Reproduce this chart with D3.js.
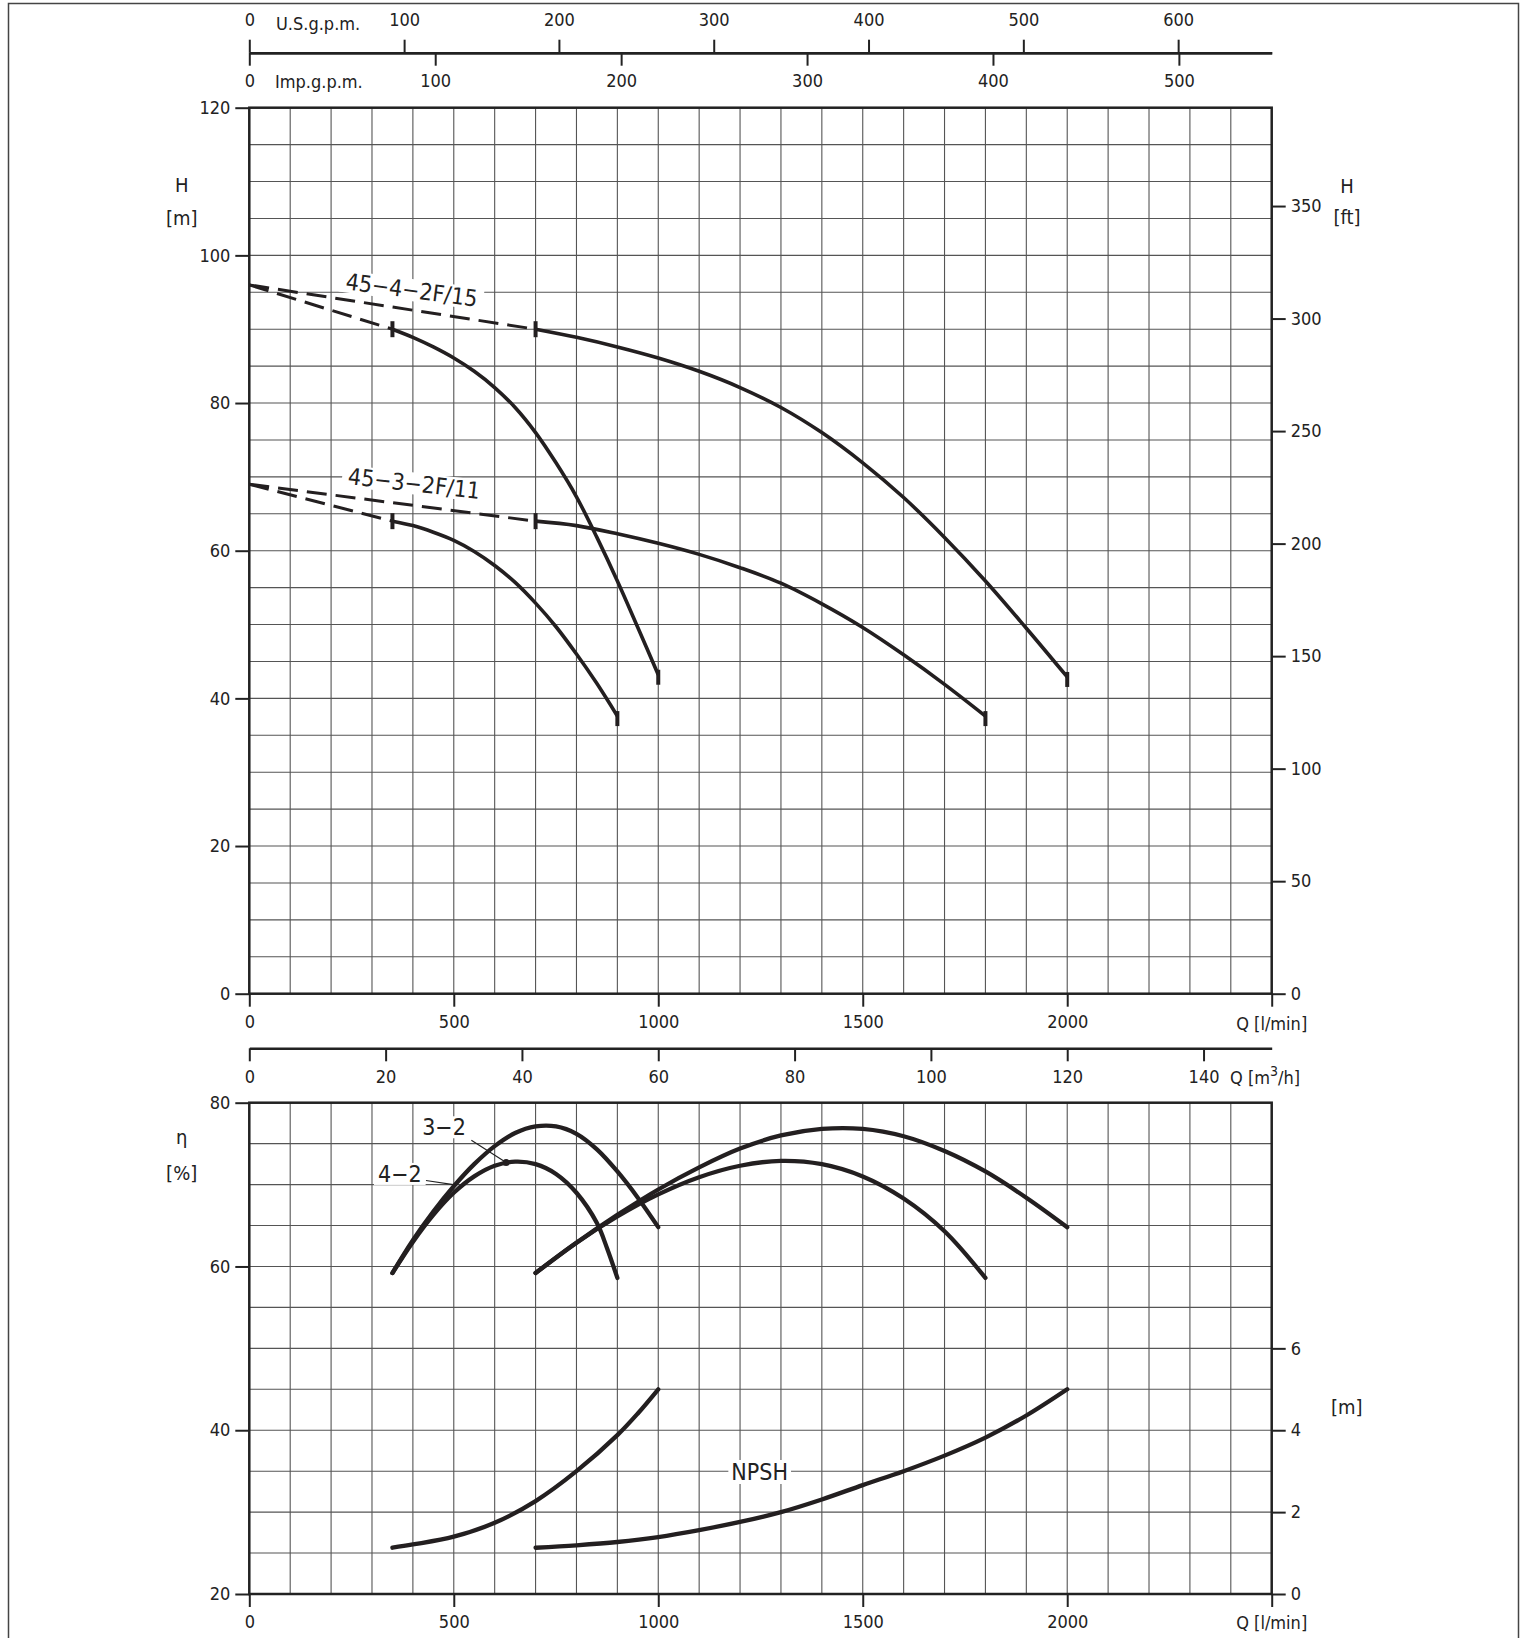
<!DOCTYPE html>
<html><head><meta charset="utf-8">
<script src="https://cdn.jsdelivr.net/npm/d3@7"></script>
<style>
body{margin:0;background:#fff}
svg text{font-family:"DejaVu Sans Condensed","DejaVu Sans",sans-serif;font-stretch:condensed;fill:#222}
</style>
</head><body>
<svg id="c" width="1523" height="1638"></svg>
<script>
// ---------- tick labels ----------
const headTicksM   = [0,20,40,60,80,100,120];
const headTicksFt  = [0,50,100,150,200,250,300,350];
const flowTicksLmin = [0,500,1000,1500,2000,2500];
const flowTicksM3h = [0,20,40,60,80,100,120,140];
const usgpmTicks   = [0,100,200,300,400,500,600];
const impgpmTicks  = [0,100,200,300,400,500];
const etaTicks     = [20,40,60,80];
const npshTicks    = [0,2,4,6];

// ---------- head curves (Q l/min, H m) ----------
const q4Dash  = [0,350];           const h4Dash  = [96,90];
const q4      = [350,400,450,500,550,600,650,700,750,800,850,900,950,1000];
const h4      = [90,88.9,87.6,86.1,84.3,82.1,79.4,76.0,71.9,67.3,61.8,55.9,49.6,43.2];
const q4LDash = [0,700];           const h4LDash = [96,90];
const q4L     = [700,800,900,1000,1100,1200,1300,1400,1500,1600,1700,1800,1900,2000];
const h4L     = [90,88.9,87.6,86.1,84.3,82.1,79.4,76.0,71.9,67.2,61.8,55.9,49.5,42.9];
const q3Dash  = [0,350];           const h3Dash  = [69,64];
const q3      = [350,400,450,500,550,600,650,700,750,800,850,900];
const h3      = [64,63.4,62.5,61.4,59.9,58.0,55.7,52.9,49.7,46.0,42.0,37.6];
const q3LDash = [0,700];           const h3LDash = [69,64];
const q3L     = [700,800,900,1000,1100,1200,1300,1400,1500,1600,1700,1800];
const h3L     = [64,63.4,62.3,61.0,59.5,57.7,55.6,52.8,49.6,45.9,41.9,37.6];

// ---------- efficiency curves (Q l/min, eta %) ----------
const qEffA = [350,400,450,500,550,600,650,700,750,800,850,900,950,1000];
const eEffA = [59.2,63.2,66.7,69.8,72.5,74.7,76.3,77.1,77.1,76.2,74.3,71.6,68.4,64.8];
const qEffB = [350,400,450,500,550,600,650,700,750,800,850,875,900];
const eEffB = [59.2,63.0,66.3,69.0,71.0,72.3,72.8,72.5,71.3,69.0,65.3,62.2,58.6];
const qEffC = [700,800,900,1000,1100,1200,1300,1400,1500,1600,1700,1800,1900,2000];
const eEffC = [59.2,62.9,66.3,69.4,72.1,74.4,76.0,76.8,76.8,75.9,74.1,71.6,68.4,64.8];
const qEffD = [700,800,900,1000,1100,1200,1300,1400,1500,1600,1700,1800];
const eEffD = [59.2,62.9,66.1,68.8,70.9,72.3,72.9,72.5,71.0,68.3,64.3,58.6];

// ---------- NPSH curves (Q l/min, NPSH m) ----------
const qNp1 = [350,400,500,600,700,800,900,950,1000];
const nNp1 = [1.13,1.21,1.40,1.74,2.27,3.0,3.88,4.41,5.0];
const qNp2 = [700,800,900,1000,1100,1200,1300,1400,1500,1600,1700,1800,1900,2000];
const nNp2 = [1.13,1.19,1.27,1.39,1.56,1.76,2.0,2.31,2.66,3.0,3.38,3.82,4.36,5.0];

// ---------- annotations (data units) ----------
const curveLabels = ["45−4−2F/15","45−3−2F/11"];
const curveLabelQ = [397,403];
const curveLabelH = [95.3,69.1];
const curveLabelRot = [7.5,6.5];
const effLabels = ["3−2","4−2"];
const effLabelQ = [476,368];
const effLabelE = [77.0,71.3];
const effPtrFromQ = [543,432]; const effPtrFromE = [75.4,70.5];
const effPtrToQ = [628,499];   const effPtrToE = [72.7,70.0];

// ---------- layout ----------
const L = 249.3, R = 1271.7;
const T0 = 107.7, T1 = 993.7, B0 = 1102.7, B1 = 1594;
const svg = d3.select("#c");
const zip = (a,b) => a.map((v,i)=>[v,b[i]]);

const x   = d3.scaleLinear().domain([0,2500]).range([L,R]);
const yH  = d3.scaleLinear().domain([0,120]).range([T1,T0]);
const yFt = d3.scaleLinear().domain([0,120*3.28084]).range([T1,T0]);
const yE  = d3.scaleLinear().domain([20,80]).range([B1,B0]);
const yN  = d3.scaleLinear().domain([0,6]).range([B1,yE(50)]);
const xUS = d3.scaleLinear().domain([0,2500/3.78541]).range([L,R]);
const xImp= d3.scaleLinear().domain([0,2500/4.54609]).range([L,R]);
const xM3 = d3.scaleLinear().domain([0,150]).range([L,R]);

// outer frame
svg.append("rect").attr("x",8.5).attr("y",3.5).attr("width",1510).attr("height",1700)
  .attr("fill","none").attr("stroke","#444").attr("stroke-width",1.5);

// grids
function grid(y, yTicks, y0, y1){
  const g = svg.append("g").attr("stroke","#555").attr("stroke-width",1.1);
  g.selectAll("line.v").data(x.ticks(25)).join("line").attr("class","v")
    .attr("x1",d=>x(d)).attr("x2",d=>x(d)).attr("y1",y0).attr("y2",y1);
  g.selectAll("line.h").data(yTicks).join("line").attr("class","h")
    .attr("x1",L).attr("x2",R).attr("y1",d=>y(d)).attr("y2",d=>y(d));
}
grid(yH, yH.ticks(24), T0, T1);
grid(yE, yE.ticks(12), B0, B1);

function styleAxis(g, fs){
  g.attr("font-family",null).attr("font-size",null);
  g.selectAll("line").attr("stroke","#222").attr("stroke-width",2);
  g.selectAll("path.domain").attr("stroke","#222").attr("stroke-width",2.5);
  g.selectAll("text").attr("font-size",fs).attr("fill","#222");
}
const fs = 18;
const fmt = d3.format("d");
let a;
// top chart
a = svg.append("g").attr("transform",`translate(${L},0)`)
  .call(d3.axisLeft(yH).tickValues(headTicksM).tickSize(14).tickPadding(5).tickSizeOuter(0));
a.select(".domain").remove(); styleAxis(a,fs);
a = svg.append("g").attr("transform",`translate(${R},0)`)
  .call(d3.axisRight(yFt).tickValues(headTicksFt).tickSize(14).tickPadding(5).tickSizeOuter(0));
a.select(".domain").remove(); styleAxis(a,fs);
a = svg.append("g").attr("transform",`translate(0,${T1})`)
  .call(d3.axisBottom(x).tickValues(flowTicksLmin).tickSize(13).tickPadding(8.7)
    .tickFormat(d=>d===2500?"":fmt(d)).tickSizeOuter(0));
a.select(".domain").remove(); styleAxis(a,fs);
svg.append("rect").attr("x",L).attr("y",T0).attr("width",R-L).attr("height",T1-T0)
  .attr("fill","none").attr("stroke","#222").attr("stroke-width",2.5);
// gpm axes
a = svg.append("g").attr("transform","translate(0,52.7)")
  .call(d3.axisTop(xUS).tickValues(usgpmTicks).tickSize(13).tickPadding(10.5).tickSizeOuter(0));
styleAxis(a,fs); a.selectAll("text").attr("dy","0.72em").attr("y",-40);
a = svg.append("g").attr("transform","translate(0,52.7)")
  .call(d3.axisBottom(xImp).tickValues(impgpmTicks).tickSize(13).tickPadding(8.8).tickSizeOuter(0));
styleAxis(a,fs);
// m3/h axis
a = svg.append("g").attr("transform","translate(0,1048.3)")
  .call(d3.axisBottom(xM3).tickValues(flowTicksM3h).tickSize(13).tickPadding(9).tickSizeOuter(0));
styleAxis(a,fs);

// bottom chart axes
a = svg.append("g").attr("transform",`translate(${L},0)`)
  .call(d3.axisLeft(yE).tickValues(etaTicks).tickSize(14).tickPadding(5).tickSizeOuter(0));
a.select(".domain").remove(); styleAxis(a,fs);
a = svg.append("g").attr("transform",`translate(${R},0)`)
  .call(d3.axisRight(yN).tickValues(npshTicks).tickFormat(fmt).tickSize(14).tickPadding(5).tickSizeOuter(0));
a.select(".domain").remove(); styleAxis(a,fs);
a = svg.append("g").attr("transform",`translate(0,${B1})`)
  .call(d3.axisBottom(x).tickValues(flowTicksLmin).tickSize(13).tickPadding(8.7)
    .tickFormat(d=>d===2500?"":fmt(d)).tickSizeOuter(0));
a.select(".domain").remove(); styleAxis(a,fs);
svg.append("rect").attr("x",L).attr("y",B0).attr("width",R-L).attr("height",B1-B0)
  .attr("fill","none").attr("stroke","#222").attr("stroke-width",2.5);

// unit labels
function txt(parent, s, px, py, size, anchor){
  return parent.append("text").attr("x",px).attr("y",py).attr("font-size",size)
    .attr("text-anchor",anchor||"middle").attr("dominant-baseline","central").text(s);
}
txt(svg,"U.S.g.p.m.",276,23,fs,"start");
txt(svg,"Imp.g.p.m.",275,81,fs,"start");
txt(svg,"H",181.7,185,20); txt(svg,"[m]",181.7,218,20);
txt(svg,"H",1347,186,20);  txt(svg,"[ft]",1347,217,20);
txt(svg,"Q [l/min]",1271.7,1023,fs);
const m3 = txt(svg,"Q [m",1230,1077,fs,"start");
m3.append("tspan").attr("font-size",14).attr("dy",-6).text("3");
m3.append("tspan").attr("dy",6).text("/h]");
txt(svg,"η",181.7,1137,20); txt(svg,"[%]",181.7,1173,20);
txt(svg,"[m]",1346.7,1406.7,20);
txt(svg,"Q [l/min]",1271.7,1622,fs);

// boxed label helper: white box behind text in its own group
function boxed(s, px, py, rot, size, padX, padY){
  const g = svg.append("g").attr("transform",`translate(${px},${py}) rotate(${rot})`);
  const box = g.append("rect").attr("fill","#fff");
  const t = txt(g, s, 0, 0, size);
  const bb = t.node().getBBox();
  box.attr("x",bb.x-padX).attr("y",bb.y+padY).attr("width",bb.width+2*padX).attr("height",bb.height-2*padY);
  return g;
}

const lineH = d3.line().x(d=>x(d[0])).y(d=>yH(d[1])).curve(d3.curveCatmullRom.alpha(0.5));
const lineE = d3.line().x(d=>x(d[0])).y(d=>yE(d[1])).curve(d3.curveCatmullRom.alpha(0.5));
const lineN = d3.line().x(d=>x(d[0])).y(d=>yN(d[1])).curve(d3.curveCatmullRom.alpha(0.5));
const ink = "#231f20";

curveLabels.forEach((s,i)=> boxed(s, x(curveLabelQ[i]), yH(curveLabelH[i]), curveLabelRot[i], 23, 6, 2));

[[q4Dash,h4Dash],[q4LDash,h4LDash],[q3Dash,h3Dash],[q3LDash,h3LDash]].forEach(([q,h])=>{
  svg.append("path").attr("d",lineH(zip(q,h))).attr("fill","none").attr("stroke",ink)
    .attr("stroke-width",3).attr("stroke-dasharray","20,9");
});
[[q4,h4],[q4L,h4L],[q3,h3],[q3L,h3L]].forEach(([q,h])=>{
  svg.append("path").attr("d",lineH(zip(q,h))).attr("fill","none").attr("stroke",ink)
    .attr("stroke-width",3.6).attr("stroke-linejoin","round");
  const s = [q[0],h[0]], e = [q[q.length-1],h[h.length-1]];
  svg.append("line").attr("x1",x(s[0])).attr("x2",x(s[0])).attr("y1",yH(s[1])-8).attr("y2",yH(s[1])+8)
    .attr("stroke",ink).attr("stroke-width",4);
  svg.append("line").attr("x1",x(e[0])).attr("x2",x(e[0])).attr("y1",yH(e[1])-5).attr("y2",yH(e[1])+10)
    .attr("stroke",ink).attr("stroke-width",4);
});

// efficiency labels + pointers
effLabels.forEach((s,i)=>{
  boxed(s, x(effLabelQ[i]), yE(effLabelE[i]), 0, 23, 4, 2);
  svg.append("line").attr("x1",x(effPtrFromQ[i])).attr("y1",yE(effPtrFromE[i]))
    .attr("x2",x(effPtrToQ[i])).attr("y2",yE(effPtrToE[i])).attr("stroke","#222").attr("stroke-width",1.2);
});
svg.append("circle").attr("cx",x(effPtrToQ[0])).attr("cy",yE(effPtrToE[0])).attr("r",3.5).attr("fill",ink);

[[qEffA,eEffA],[qEffB,eEffB],[qEffC,eEffC],[qEffD,eEffD]].forEach(([q,e])=>{
  svg.append("path").attr("d",lineE(zip(q,e))).attr("fill","none").attr("stroke",ink)
    .attr("stroke-width",4.3).attr("stroke-linecap","round");
});

// NPSH label
boxed("NPSH", x(1248), yN(2.98), 0, 23, 3, 1);

[[qNp1,nNp1],[qNp2,nNp2]].forEach(([q,n])=>{
  svg.append("path").attr("d",lineN(zip(q,n))).attr("fill","none").attr("stroke",ink)
    .attr("stroke-width",4.3).attr("stroke-linecap","round");
});
</script>
</body></html>
